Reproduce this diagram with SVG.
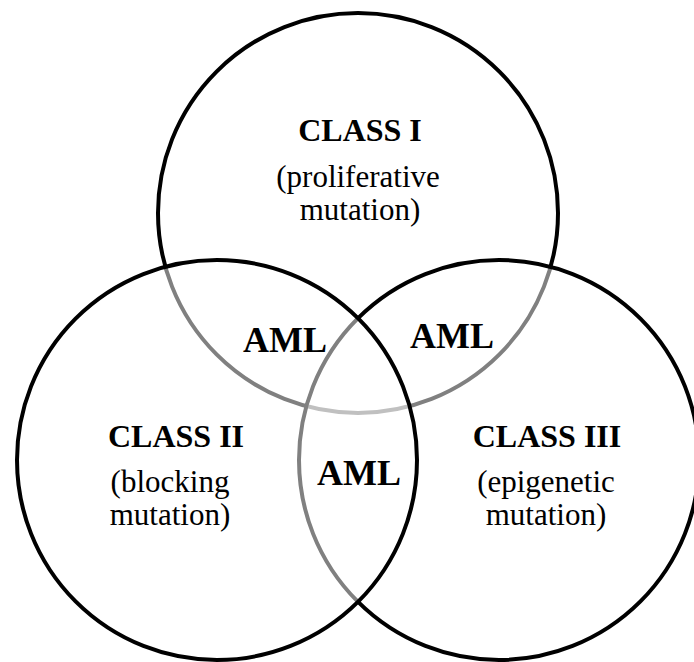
<svg xmlns="http://www.w3.org/2000/svg" width="694" height="662" viewBox="0 0 694 662">
<style>
.c{fill:#ffffff;fill-opacity:0.5;stroke:#000;stroke-width:4}
.t{font-family:"Liberation Serif","Times New Roman",serif;text-anchor:middle;fill:#000}
.b{font-weight:bold;font-size:32px}
.a{font-weight:bold;font-size:36px}
.r{font-size:31px}
</style>
<rect width="694" height="662" fill="#fff"/>
<g id="class1">
<circle class="c" cx="358" cy="213" r="200"/>
</g>
<g id="class3">
<circle class="c" cx="499" cy="460" r="200"/>
</g>
<g id="class2">
<circle class="c" cx="217" cy="460" r="200"/>
</g>
<g id="labels1">
<text class="t b" x="360" y="141">CLASS I</text>
<text class="t r" x="358" y="187">(proliferative</text>
<text class="t r" x="360" y="220">mutation)</text>
</g>
<g id="labels2">
<text class="t b" x="176" y="447">CLASS II</text>
<text class="t r" x="170" y="492">(blocking</text>
<text class="t r" x="170" y="525">mutation)</text>
</g>
<g id="labels3">
<text class="t b" x="547" y="447">CLASS III</text>
<text class="t r" x="546" y="492">(epigenetic</text>
<text class="t r" x="546" y="525">mutation)</text>
</g>
<g id="aml">
<text class="t a" x="285" y="352">AML</text>
<text class="t a" x="452" y="348">AML</text>
<text class="t a" x="359" y="485">AML</text>
</g>
</svg>
